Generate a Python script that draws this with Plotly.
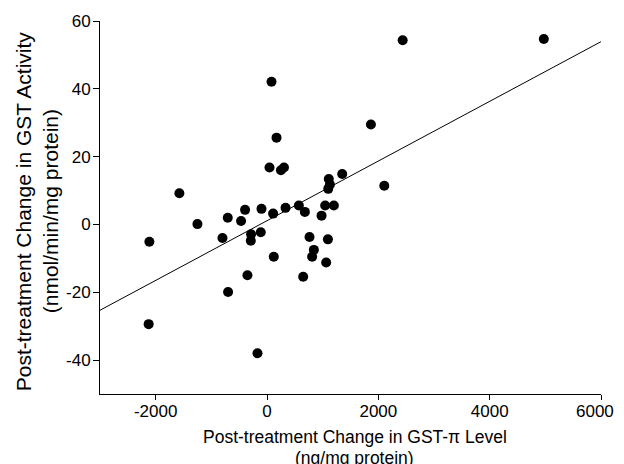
import plotly.graph_objects as go

# Post-treatment change in GST-pi level (ng/mg protein)
gst_pi_change = [81, 171, 45, 250, 305, -1574, 1110, 1130, 1100, 1351,
                 2437, 4973, 1867, 2107, -2113, -1250, -705, -394, -99, -466,
                 -800, -286, -291, -112, 110, 333, 572, 680, 1045, 1201,
                 980, 764, 1094, 842, 811, 122, 1063, -351, 650, -699,
                 -2126, -171]
# Post-treatment change in GST activity (nmol/min/mg protein)
gst_activity_change = [42.1, 25.6, 16.8, 16.0, 16.8, 9.2, 13.4, 11.8, 10.5, 14.9,
                       54.3, 54.7, 29.5, 11.4, -5.1, 0.1, 2.0, 4.3, 4.6, 1.0,
                       -4.0, -2.9, -4.8, -2.3, 3.2, 4.9, 5.6, 3.7, 5.6, 5.6,
                       2.6, -3.7, -4.4, -7.5, -9.5, -9.5, -11.2, -15.0, -15.4, -19.9,
                       -29.4, -38.0]

# Regression line parameters
fit_intercept = 1.1
fit_slope = 0.0088
x_range = [-3000, 6000]
y_range = [-50, 60]
x_ticks = [-2000, 0, 2000, 4000, 6000]
y_ticks = [-40, -20, 0, 20, 40, 60]

x_title_lines = ["Post-treatment Change in GST-π Level", "(ng/mg protein)"]
y_title_lines = ["Post-treatment Change in GST Activity", "(nmol/min/mg protein)"]

fit_x = x_range
fit_y = [fit_intercept + fit_slope * v for v in fit_x]

font_family = "Arial, Liberation Sans, sans-serif"

fig = go.Figure()
fig.add_trace(go.Scatter(x=fit_x, y=fit_y, mode="lines",
                         line=dict(color="black", width=1), showlegend=False,
                         cliponaxis=False))
fig.add_trace(go.Scatter(x=gst_pi_change, y=gst_activity_change, mode="markers",
                         marker=dict(color="black", size=10), showlegend=False,
                         cliponaxis=False))

# Axis titles as annotations placed relative to the plot area
for i, txt in enumerate(x_title_lines):
    fig.add_annotation(text=txt, xref="paper", yref="paper", x=0.508, y=0,
                       xanchor="center", yanchor="middle", yshift=-43 - 21 * i,
                       showarrow=False, font=dict(size=17.5))
for i, txt in enumerate(y_title_lines):
    fig.add_annotation(text=txt, xref="paper", yref="paper", x=0, y=0.49,
                       xanchor="center", yanchor="middle", xshift=-77 + 27 * i,
                       textangle=-90, showarrow=False, font=dict(size=21))

# The last x tick label sits at the right edge: draw it nudged inward so it stays visible
x_ticktext = [str(v) for v in x_ticks[:-1]] + [""]
fig.add_annotation(text=str(x_ticks[-1]), xref="x", yref="paper", x=x_ticks[-1], y=0,
                   xanchor="right", yanchor="middle", xshift=15, yshift=-17,
                   showarrow=False, font=dict(size=17))

# The page body adds an 8px offset, so the figure is sized to fill the rest
fig.update_layout(
    width=616, height=456,
    margin=dict(l=92.4, r=23.3, t=12.5, b=70),
    plot_bgcolor="white", paper_bgcolor="white",
    font=dict(family=font_family, color="black", size=17),
    xaxis=dict(range=x_range, tickvals=x_ticks, ticktext=x_ticktext,
               showline=True, linecolor="black", linewidth=1,
               ticks="outside", ticklen=5, tickcolor="black",
               showgrid=False, zeroline=False, automargin=False,
               tickfont=dict(size=17), ticklabelstandoff=-3),
    yaxis=dict(range=y_range, tickvals=y_ticks, ticktext=[str(v) for v in y_ticks],
               showline=True, linecolor="black", linewidth=1,
               ticks="outside", ticklen=6, tickcolor="black",
               showgrid=False, zeroline=False, automargin=False,
               tickfont=dict(size=17), ticklabelstandoff=-1),
)

fig.write_html("out.html")
